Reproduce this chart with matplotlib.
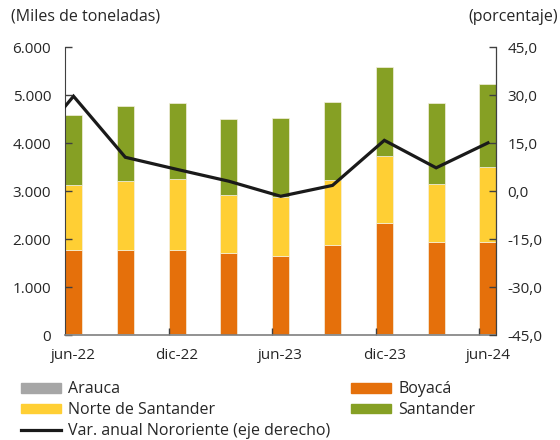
import numpy as np
import matplotlib
matplotlib.use("Agg")
import matplotlib.pyplot as plt
from matplotlib.patches import Patch
from matplotlib.lines import Line2D
from matplotlib.ticker import FuncFormatter, FixedLocator

plt.rcParams['font.family'] = ['Open Sans', 'DejaVu Sans']

# trimestres jun-22 .. jun-24
periods = ["jun-22", "sep-22", "dic-22", "mar-23", "jun-23",
           "sep-23", "dic-23", "mar-24", "jun-24"]
tick_labels = ["jun-22", "dic-22", "jun-23", "dic-23", "jun-24"]

# miles de toneladas
arauca = [20, 20, 20, 5, 5, 15, 15, 15, 15]
boyaca = [1755, 1755, 1755, 1700, 1650, 1860, 2325, 1925, 1930]
norte_santander = [1355, 1445, 1475, 1205, 1230, 1355, 1390, 1200, 1550]
santander = [1460, 1560, 1585, 1605, 1635, 1635, 1850, 1705, 1730]

# var. anual (%), first value is mar-22 (falls outside the plot)
var_anual = [10.1, 29.7, 10.6, 6.8, 3.1, -1.6, 1.8, 15.9, 7.3, 15.1]

c_arauca = "#a6a6a6"
c_boyaca = "#e5700b"
c_norte = "#ffcf34"
c_sant = "#86a024"
c_axis = "#404040"
c_text = "#262626"

fig = plt.figure(figsize=(5.6, 4.4), dpi=100)
ax = fig.add_axes([0.116, 0.2386, 0.7706, 0.6539])

x = np.arange(len(periods))
w = 0.33
edge = dict(edgecolor="#f4f0e0", linewidth=0.5)

b0 = np.zeros(len(x))
ax.bar(x, arauca, w, bottom=b0, color=c_arauca, **edge)
b0 = b0 + np.array(arauca)
ax.bar(x, boyaca, w, bottom=b0, color=c_boyaca, **edge)
b0 = b0 + np.array(boyaca)
ax.bar(x, norte_santander, w, bottom=b0, color=c_norte, **edge)
b0 = b0 + np.array(norte_santander)
ax.bar(x, santander, w, bottom=b0, color=c_sant, **edge)

ax.set_xlim(-w / 2, x[-1] + w / 2)
ax.set_ylim(0, 6000)
ax.set_yticks(np.arange(0, 6001, 1000))
ax.yaxis.set_major_formatter(FuncFormatter(lambda v, p: f"{int(v):,}".replace(",", ".")))

# labels centred on bars, tick marks at the left edge of bars
ax.set_xticks(x[::2])
ax.set_xticklabels(tick_labels)
ax.xaxis.set_minor_locator(FixedLocator(x[2::2] - w / 2))
ax.tick_params(axis="x", which="major", length=0, pad=9, labelsize=11, colors=c_text)
ax.tick_params(axis="x", which="minor", direction="in", length=5, width=1, color=c_axis)
ax.tick_params(axis="y", direction="in", length=5, width=1, color=c_axis,
               labelsize=11, labelcolor=c_text, pad=10)

ax.spines["top"].set_visible(False)
ax.spines["left"].set_color(c_axis)
ax.spines["bottom"].set_color("#7f7f7f")
ax.spines["bottom"].set_linewidth(1.2)

ax2 = ax.twinx()
ax2.plot(np.arange(-1, len(periods)), var_anual, color="#1a1a1a", lw=2.3,
         solid_joinstyle="miter", zorder=5)
ax2.set_ylim(-45, 45)
ax2.set_yticks(np.arange(-45, 46, 15))
ax2.yaxis.set_major_formatter(FuncFormatter(lambda v, p: f"{v:.1f}".replace(".", ",")))
ax2.tick_params(axis="y", direction="in", length=5, width=1, color=c_axis,
                labelsize=11, labelcolor=c_text, pad=8)
ax2.spines["top"].set_visible(False)
ax2.spines["left"].set_visible(False)
ax2.spines["bottom"].set_visible(False)
ax2.spines["right"].set_color(c_axis)
ax2.set_xlim(ax.get_xlim())

fig.text(0.02, 0.962, "(Miles de toneladas)", fontsize=11.5, color=c_text, va="center")
fig.text(0.997, 0.962, "(porcentaje)", fontsize=11.5, color=c_text, va="center", ha="right")

leg_kw = dict(frameon=False, fontsize=11.5, handlelength=2.5, handleheight=0.55,
              handletextpad=0.45, labelspacing=0.3, borderpad=0, borderaxespad=0,
              labelcolor=c_text)
h1 = [Patch(color=c_arauca, label="Arauca"),
      Patch(color=c_norte, label="Norte de Santander"),
      Line2D([], [], color="#1a1a1a", lw=2.3, label="Var. anual Nororiente (eje derecho)")]
h2 = [Patch(color=c_boyaca, label="Boyacá"),
      Patch(color=c_sant, label="Santander")]
fig.legend(handles=h1, loc="upper left", bbox_to_anchor=(0.038, 0.133), **leg_kw)
fig.legend(handles=h2, loc="upper left", bbox_to_anchor=(0.627, 0.133), **leg_kw)

fig.savefig("out.png", dpi=100)
